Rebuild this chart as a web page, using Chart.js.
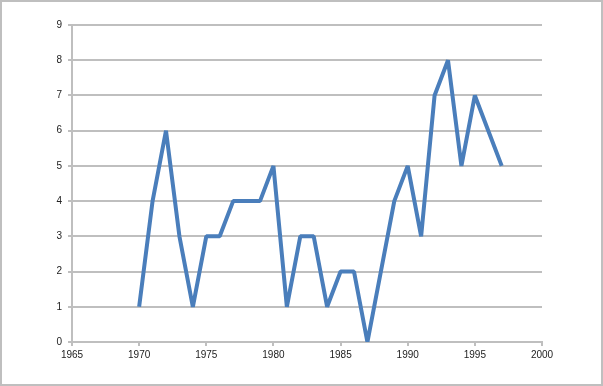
<!DOCTYPE html>
<html>
<head>
<meta charset="utf-8">
<script src="https://cdn.jsdelivr.net/npm/chart.js@4.4.0/dist/chart.umd.min.js"></script>
<style>
  html, body { margin:0; padding:0; background:#fff; }
  #wrap { width:603px; height:386px; position:relative; }
</style>
</head>
<body>
<div id="wrap"><canvas id="chart"></canvas></div>
<script>
// values
const years  = [1970,1971,1972,1973,1974,1975,1976,1977,1978,1979,1980,1981,1982,1983,1984,1985,1986,1987,1988,1989,1990,1991,1992,1993,1994,1995,1996,1997];
const counts = [1,4,6,3,1,3,3,4,4,4,5,1,3,3,1,2,2,0,2,4,5,3,7,8,5,7,6,5];
const xMin = 1965, xMax = 2000, xStep = 5;
const yMin = 0, yMax = 9, yStep = 1;

const gridGrey = '#bfbfbf';

// outer frame round the whole picture
const framePlugin = {
  id: 'frame',
  afterDraw(chart) {
    const c = chart.ctx;
    c.save();
    c.strokeStyle = gridGrey;
    c.lineWidth = 2;
    c.strokeRect(1, 1, chart.width - 2, chart.height - 2);
    c.restore();
  }
};

new Chart(document.getElementById('chart'), {
  type: 'line',
  data: {
    datasets: [{
      data: years.map((y, i) => ({ x: y, y: counts[i] })),
      borderColor: '#4a7ebb',
      borderWidth: 4,
      borderJoinStyle: 'bevel',
      pointRadius: 0,
      tension: 0,
      fill: false
    }]
  },
  options: {
    responsive: true,
    maintainAspectRatio: false,
    animation: false,
    layout: { padding: { left: 0, top: 25, right: 61, bottom: 0 } },
    plugins: { legend: { display: false }, tooltip: { enabled: false } },
    scales: {
      x: {
        type: 'linear', min: xMin, max: xMax,
        afterFit(s) { s.height = 44; },
        ticks: { stepSize: xStep, color: '#222', padding: 3,
                 font: { family: 'Liberation Sans', size: 10 },
                 callback: v => String(v) },
        grid: { drawOnChartArea: false, drawTicks: true, tickLength: 4, color: gridGrey, lineWidth: 2 },
        border: { color: gridGrey, width: 2 }
      },
      y: {
        min: yMin, max: yMax,
        afterFit(s) { s.width = 72; },
        ticks: { stepSize: yStep, color: '#222', padding: 6,
                 font: { family: 'Liberation Sans', size: 10 } },
        grid: { color: gridGrey, lineWidth: 2, tickLength: 4 },
        border: { color: gridGrey, width: 2 }
      }
    }
  },
  plugins: [framePlugin]
});
</script>
</body>
</html>
